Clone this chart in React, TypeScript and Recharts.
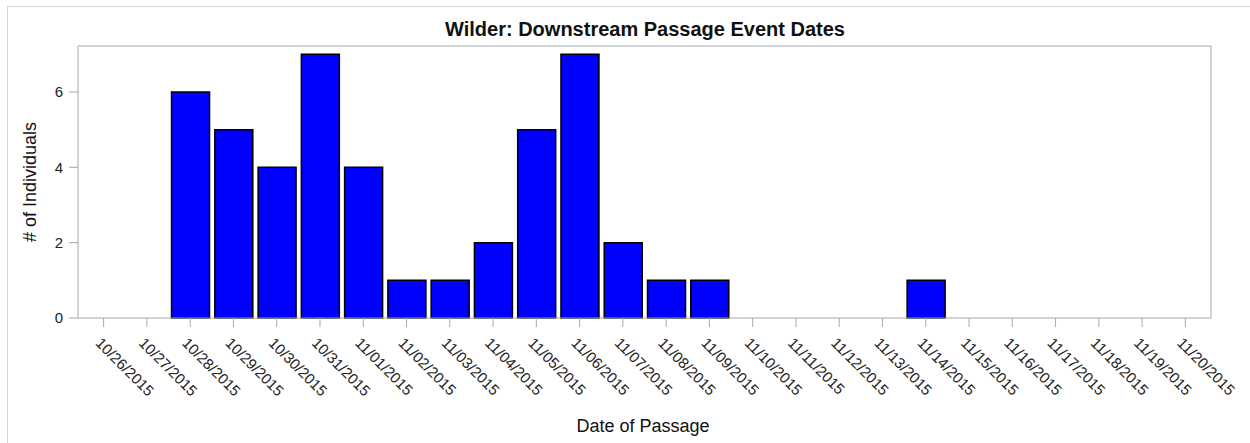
import { BarChart, Bar, XAxis, YAxis } from "recharts";

const dates = [
  "10/26/2015", "10/27/2015", "10/28/2015", "10/29/2015", "10/30/2015",
  "10/31/2015", "11/01/2015", "11/02/2015", "11/03/2015", "11/04/2015",
  "11/05/2015", "11/06/2015", "11/07/2015", "11/08/2015", "11/09/2015",
  "11/10/2015", "11/11/2015", "11/12/2015", "11/13/2015", "11/14/2015",
  "11/15/2015", "11/16/2015", "11/17/2015", "11/18/2015", "11/19/2015",
  "11/20/2015",
];
const counts = [0, 0, 6, 5, 4, 7, 4, 1, 1, 2, 5, 7, 2, 1, 1, 0, 0, 0, 0, 1, 0, 0, 0, 0, 0, 0];
const yTicks = [0, 2, 4, 6];

const data = dates.map((date, i) => ({ date, count: counts[i] }));

const FONT = "'Liberation Sans', Arial, sans-serif";
const AXIS = "#a4a9ae";

function DateTick(props: any) {
  const { x, y, payload } = props;
  const x0 = x - 9;
  const y0 = y + 15;
  return (
    <text
      x={x0}
      y={y0}
      transform={`rotate(45, ${x0}, ${y0})`}
      textAnchor="start"
      fontSize={15}
      fontFamily={FONT}
      fill="#222"
    >
      {payload.value}
    </text>
  );
}

export default function App() {
  return (
    <div style={{ position: "absolute", left: 0, top: 0, width: 1250, height: 443, background: "#fff" }}>
      <div
        style={{
          position: "absolute",
          left: 7,
          top: 6,
          width: 1300,
          height: 500,
          borderLeft: "1px solid #d4d4d4",
          borderTop: "1px solid #d4d4d4",
        }}
      />
      <div style={{ position: "absolute", left: 0, top: 0 }}>
        <BarChart width={1250} height={443} data={data} margin={{ top: 44, right: 37, left: 8, bottom: 25 }}>
          <XAxis
            dataKey="date"
            height={100}
            interval={0}
            padding={{ left: 4, right: 4 }}
            stroke={AXIS}
            tickSize={9}
            tick={<DateTick />}
          />
          <XAxis
            xAxisId="top"
            orientation="top"
            dataKey="date"
            height={2}
            tick={false}
            tickLine={false}
            stroke={AXIS}
          />
          <YAxis
            domain={[0, 7.22]}
            ticks={yTicks}
            width={70}
            stroke={AXIS}
            tickSize={9}
            tickMargin={6}
            tick={{ fontSize: 15, fontFamily: FONT, fill: "#222" }}
          />
          <YAxis
            yAxisId="right"
            orientation="right"
            width={2}
            tick={false}
            tickLine={false}
            stroke={AXIS}
          />
          <Bar dataKey="count" fill="#0000ff" stroke="#000" strokeWidth={1.5} barSize={38} isAnimationActive={false} />
        </BarChart>
      </div>
      <svg width={1250} height={443} style={{ position: "absolute", left: 0, top: 0, pointerEvents: "none" }}>
        <text x={645} y={36} textAnchor="middle" fontSize={20} fontWeight="bold" fontFamily={FONT} fill="#111">
          Wilder: Downstream Passage Event Dates
        </text>
        <text
          x={36}
          y={182}
          textAnchor="middle"
          transform="rotate(-90, 36, 182)"
          fontSize={18}
          fontFamily={FONT}
          fill="#111"
        >
          # of Individuals
        </text>
        <text x={643} y={432} textAnchor="middle" fontSize={18} fontFamily={FONT} fill="#111">
          Date of Passage
        </text>
      </svg>
    </div>
  );
}
